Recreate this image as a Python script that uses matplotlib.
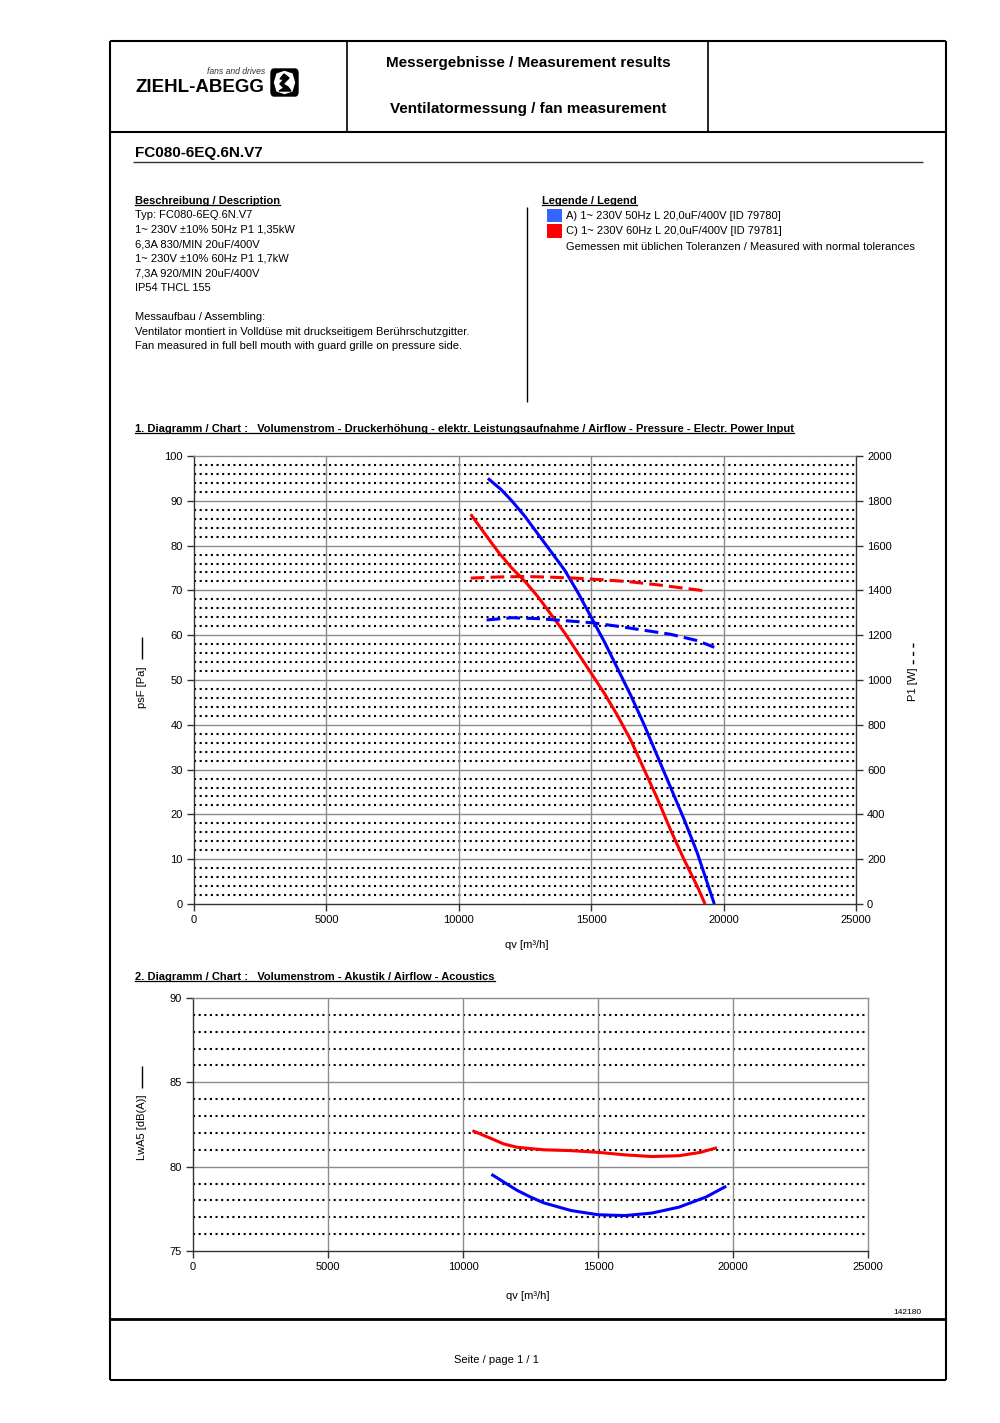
import matplotlib
matplotlib.use("Agg")
import matplotlib.pyplot as plt
from matplotlib.lines import Line2D
from matplotlib.patches import Rectangle, Polygon, Circle, FancyBboxPatch

plt.rcParams['font.family'] = ['Liberation Sans', 'DejaVu Sans']

# ---------------- data ----------------
# Chart 1: pressure psF [Pa] vs airflow qv [m3/h]
qv_p_50 = [11100, 11600, 12000, 12500, 13000, 13500, 14000, 14500, 15000, 15500,
           16000, 16500, 17000, 17500, 18000, 18500, 19000, 19650]
psf_50 = [95, 92.5, 90, 86.5, 82.5, 78.5, 74.5, 69.5, 64, 58.5,
          52.5, 46.5, 40, 33, 26, 19, 11.5, 0]
qv_p_60 = [10450, 11000, 11500, 12000, 12500, 13000, 13500, 14000, 14500, 15000,
           15500, 16000, 16500, 17000, 17500, 18000, 18500, 19000, 19300]
psf_60 = [87, 82.5, 78.5, 75, 72, 68.5, 64.5, 60.5, 56, 51.5,
          47, 42, 36.5, 30, 23.5, 16.5, 10, 4, 0]
# Power input P1 [W]
qv_w_50 = [11050, 12000, 13000, 14000, 15000, 16000, 17000, 18000, 19000, 19650]
p1_50 = [1268, 1278, 1274, 1265, 1256, 1240, 1222, 1204, 1176, 1146]
qv_w_60 = [10450, 11500, 12500, 13500, 14500, 15500, 16500, 17500, 18500, 19300]
p1_60 = [1455, 1460, 1462, 1459, 1454, 1447, 1438, 1425, 1410, 1398]
# Chart 2: sound power LwA5 [dB(A)]
qv_l_50 = [11100, 12000, 12500, 13000, 14000, 15000, 16000, 17000, 18000, 19000, 19700]
lw_50 = [79.5, 78.6, 78.2, 77.85, 77.4, 77.15, 77.1, 77.25, 77.6, 78.2, 78.8]
qv_l_60 = [10400, 11000, 11500, 12000, 13000, 14000, 15000, 16000, 17000, 18000, 18800, 19350]
lw_60 = [82.1, 81.7, 81.35, 81.15, 81.0, 80.95, 80.85, 80.7, 80.6, 80.65, 80.85, 81.1]

x_ticks = [0, 5000, 10000, 15000, 20000, 25000]
p_ticks = [0, 10, 20, 30, 40, 50, 60, 70, 80, 90, 100]
w_ticks = [0, 200, 400, 600, 800, 1000, 1200, 1400, 1600, 1800, 2000]
l_ticks = [75, 80, 85, 90]

desc_lines = ["Typ: FC080-6EQ.6N.V7",
              "1~ 230V \u00b110% 50Hz P1 1,35kW",
              "6,3A 830/MIN 20uF/400V",
              "1~ 230V \u00b110% 60Hz P1 1,7kW",
              "7,3A 920/MIN 20uF/400V",
              "IP54 THCL 155",
              "",
              "Messaufbau / Assembling:",
              "Ventilator montiert in Volld\u00fcse mit druckseitigem Ber\u00fchrschutzgitter.",
              "Fan measured in full bell mouth with guard grille on pressure side."]
legend_labels = ["A) 1~ 230V 50Hz L 20,0uF/400V [ID 79780]",
                 "C) 1~ 230V 60Hz L 20,0uF/400V [ID 79781]"]

BLUE = '#0000ff'
RED = '#ff0000'

W, H = 1000, 1423
fig = plt.figure(figsize=(W / 100, H / 100), dpi=100)


def fx(x):
    return x / W


def fy(y):
    return 1 - y / H


def hline(x0, x1, y, lw=1.0, color='black'):
    fig.add_artist(Line2D([fx(x0), fx(x1)], [fy(y), fy(y)], transform=fig.transFigure,
                          lw=lw, color=color, solid_capstyle='butt'))


def vline(x, y0, y1, lw=1.0, color='black'):
    fig.add_artist(Line2D([fx(x), fx(x)], [fy(y0), fy(y1)], transform=fig.transFigure,
                          lw=lw, color=color, solid_capstyle='butt'))


def txt(x, y, s, **kw):
    kw.setdefault('va', 'center')
    kw.setdefault('fontsize', 8)
    return fig.text(fx(x), fy(y), s, **kw)


underlined = []

# ---------------- page frame ----------------
hline(110, 946, 41, lw=1.5)
hline(110, 946, 1380, lw=1.5)
vline(110, 41, 1380, lw=1.5)
vline(946, 41, 1380, lw=1.5)
hline(110, 946, 132, lw=1.5)
hline(110, 946, 1319, lw=2.0)
vline(347, 41, 132, lw=1.2)
vline(708, 41, 132, lw=1.2)

# logo
txt(135, 88, "ZIEHL-ABEGG", fontsize=13.5, fontweight='heavy', ha='left')
txt(265, 72, "fans and drives", fontsize=6.2, style='italic', ha='right', color='#333333')
fig.add_artist(FancyBboxPatch((fx(271), fy(96)), fx(27), 27 / H, transform=fig.transFigure,
                              boxstyle='round,pad=0,rounding_size=0.003',
                              facecolor='black', edgecolor='black'))
fig.add_artist(Polygon([(fx(274.5), fy(82.5)), (fx(277), fy(74)), (fx(284.5), fy(71.5)),
                        (fx(292), fy(74)), (fx(294.5), fy(82.5)), (fx(292), fy(91)),
                        (fx(284.5), fy(93.5)), (fx(277), fy(91))],
                       closed=True, transform=fig.transFigure, facecolor='white',
                       edgecolor='white'))
fig.add_artist(Polygon([(fx(279), fy(91)), (fx(291), fy(91)), (fx(288), fy(87)),
                        (fx(283), fy(84)), (fx(289), fy(78)), (fx(284), fy(74)),
                        (fx(280), fy(79)), (fx(284), fy(79)), (fx(280), fy(84)),
                        (fx(284), fy(88))],
                       closed=True, transform=fig.transFigure, facecolor='black',
                       edgecolor='black'))

txt(528, 63, "Messergebnisse / Measurement results", fontsize=11, fontweight='bold', ha='center')
txt(528, 109, "Ventilatormessung / fan measurement", fontsize=11, fontweight='bold', ha='center')

txt(135, 153, "FC080-6EQ.6N.V7", fontsize=11, fontweight='bold', ha='left')
hline(133, 923, 162, lw=1.0, color='#333333')

# description block
underlined.append(txt(135, 201, "Beschreibung / Description", fontsize=8, fontweight='bold', ha='left'))
for i, line in enumerate(desc_lines):
    if line:
        txt(135, 215 + i * 14.6, line, fontsize=8, ha='left')
vline(527, 207, 402, lw=1.0)

underlined.append(txt(542, 201, "Legende / Legend", fontsize=8, fontweight='bold', ha='left'))
for i, (lab, col) in enumerate(zip(legend_labels, ['#3366ff', '#ff0000'])):
    yc = 216 + i * 15.5
    fig.add_artist(Rectangle((fx(547), fy(yc + 6)), fx(15), 13 / H, transform=fig.transFigure,
                             facecolor=col, edgecolor='none'))
    txt(566, yc, lab, fontsize=8, ha='left')
txt(566, 247, "Gemessen mit \u00fcblichen Toleranzen / Measured with normal tolerances", fontsize=8, ha='left')

# ---------------- chart 1 ----------------
underlined.append(txt(135, 429, "1. Diagramm / Chart :   Volumenstrom - Druckerh\u00f6hung - elektr. "
                      "Leistungsaufnahme / Airflow - Pressure - Electr. Power Input",
                      fontsize=8, fontweight='bold', ha='left'))

GRID_GRAY = '#8c8c8c'
DOT = dict(color='black', lw=1.5, linestyle=(0, (1.0, 1.7)))
DASH = (0, (4.5, 2.0))


def style_axes(ax, xlim, ylim, yt, minor_step):
    ax.set_xlim(*xlim)
    ax.set_ylim(*ylim)
    ax.set_xticks(x_ticks)
    ax.set_yticks(yt)
    ax.tick_params(direction='out', length=5, width=1, color='#333333', labelsize=8, pad=3)
    major = yt[1] - yt[0]
    v = ylim[0] + minor_step
    while v < ylim[1] - 1e-9:
        r = (v - ylim[0]) % major
        if r > 1e-6 and abs(r - major) > 1e-6:
            ax.axhline(v, zorder=1, **DOT)
        v += minor_step
    for t in yt[1:-1]:
        ax.axhline(t, color=GRID_GRAY, lw=1.0, zorder=1)
    for t in x_ticks[1:-1]:
        ax.axvline(t, color=GRID_GRAY, lw=1.0, zorder=1)
    for s in ax.spines.values():
        s.set_color('#333333')
        s.set_linewidth(1.0)
    ax.spines['top'].set_color(GRID_GRAY)


ax1 = fig.add_axes([fx(194), fy(904), (856 - 194) / W, (904 - 456) / H])
style_axes(ax1, (0, 25000), (0, 100), p_ticks, 2)
ax1.plot(qv_p_50, psf_50, color=BLUE, lw=2.2, zorder=3, solid_capstyle='butt')
ax1.plot(qv_p_60, psf_60, color=RED, lw=2.2, zorder=3, solid_capstyle='butt')

ax1r = ax1.twinx()
ax1r.set_ylim(0, 2000)
ax1r.set_yticks(w_ticks)
ax1r.tick_params(direction='out', length=5, width=1, color='#333333', labelsize=8, pad=3)
for s in ax1r.spines.values():
    s.set_visible(False)
ax1r.plot(qv_w_50, p1_50, color=BLUE, lw=2.2, linestyle=DASH, zorder=3)
ax1r.plot(qv_w_60, p1_60, color=RED, lw=2.2, linestyle=DASH, zorder=3)
ax1.spines['right'].set_color('#333333')

txt(527, 945, "qv [m\u00b3/h]", fontsize=8, ha='center')
txt(142, 687, "psF [Pa]", fontsize=8, ha='center', rotation=90)
vline(142, 637, 659, lw=1.0)
txt(913, 684, "P1 [W]", fontsize=8, ha='center', rotation=90)
fig.add_artist(Line2D([fx(913), fx(913)], [fy(643), fy(664)], transform=fig.transFigure,
                      lw=1.0, color='black', linestyle=(0, (3, 3))))

# ---------------- chart 2 ----------------
underlined.append(txt(135, 977, "2. Diagramm / Chart :   Volumenstrom - Akustik / Airflow - Acoustics",
                      fontsize=8, fontweight='bold', ha='left'))
ax2 = fig.add_axes([fx(193), fy(1251), (868 - 193) / W, (1251 - 998) / H])
style_axes(ax2, (0, 25000), (75, 90), l_ticks, 1)
ax2.spines['right'].set_color(GRID_GRAY)
ax2.plot(qv_l_50, lw_50, color=BLUE, lw=2.2, zorder=3)
ax2.plot(qv_l_60, lw_60, color=RED, lw=2.2, zorder=3)

txt(528, 1296, "qv [m\u00b3/h]", fontsize=8, ha='center')
txt(142, 1127, "LwA5 [dB(A)]", fontsize=8, ha='center', rotation=90)
vline(142, 1066, 1088, lw=1.0)

txt(907, 1312, "142180", fontsize=6, ha='center')
txt(496, 1360, "Seite / page 1 / 1", fontsize=8, ha='center')

# underline headings
fig.canvas.draw()
renderer = fig.canvas.get_renderer()
for t in underlined:
    bb = t.get_window_extent(renderer)
    y = bb.y0 + 1.5
    fig.add_artist(Line2D([bb.x0 / W, bb.x1 / W], [y / H, y / H], transform=fig.transFigure,
                          lw=0.9, color='black'))

fig.savefig("out.png", dpi=100)
